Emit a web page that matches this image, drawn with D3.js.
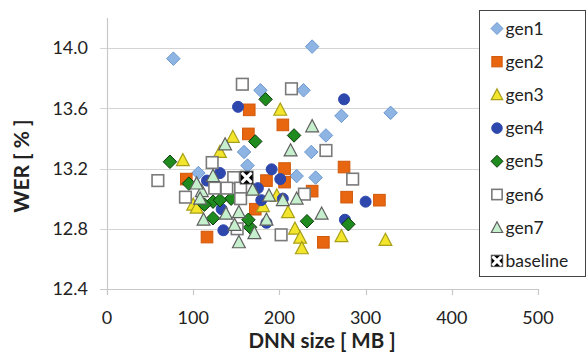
<!DOCTYPE html>
<html>
<head>
<meta charset="utf-8">
<script src="https://cdn.jsdelivr.net/npm/d3@7"></script>
<style>
  html, body { margin: 0; padding: 0; background: #fff; }
  svg { display: block; font-family: Lato, "Open Sans", sans-serif; }
</style>
</head>
<body>
<svg id="chart" width="587" height="355"></svg>
<script>
// DNN size [MB] vs WER [%] per generation
const gen1 = [[77,13.93],[238,14.01],[178,13.72],[228,13.72],[272,13.55],[329,13.57],[254,13.42],[237,13.31],[159,13.31],[163,13.22],[220,13.15],[242,13.14],[106,13.17]];
const gen2 = [[165,13.59],[164,13.43],[204,13.49],[206,13.20],[275,13.21],[206,13.11],[185,13.12],[92,13.13],[238,13.05],[278,13.01],[316,12.99],[172,12.93],[251,12.71],[116,12.745]];
const gen3 = [[201,13.59],[146,13.41],[131,13.31],[88,13.255],[100,12.96],[104,12.94],[197,13.02],[181,12.95],[210,12.91],[218,12.80],[224,12.74],[226,12.67],[272,12.75],[323,12.725]];
const gen4 = [[152,13.61],[275,13.66],[191,13.195],[201,13.13],[131,13.17],[116,13.12],[175,13.07],[204,13.00],[300,12.98],[276,12.86],[185,12.84],[135,12.79],[133,12.93],[179,12.99]];
const gen5 = [[172,13.38],[184,13.66],[217,13.42],[73,13.245],[95,13.10],[232,12.85],[280,12.83],[166,12.81],[164,12.86],[123,12.87],[123,12.98],[113,12.96],[144,13.00],[131,12.99]];
const gen6 = [[157,13.76],[214,13.73],[254,13.32],[122,13.24],[285,13.13],[147,13.14],[229,13.03],[155,13.07],[139,13.07],[125,13.07],[155,13.00],[91,13.01],[59,13.12],[202,12.76],[151,12.80]];
const gen7 = [[137,13.36],[238,13.48],[213,13.32],[220,13.00],[204,12.99],[188,13.02],[169,13.06],[249,12.90],[185,12.86],[153,12.71],[171,12.77],[148,12.825],[138,12.90],[153,12.91],[112,12.86],[110,13.05],[123,13.15],[104,13.10],[108,13.00]];
const baseline = [[162,13.14]];

const xTicks = [0, 100, 200, 300, 400, 500];
const yTicks = [12.4, 12.8, 13.2, 13.6, 14.0];

const seriesNames = ["gen1","gen2","gen3","gen4","gen5","gen6","gen7","baseline"];
const seriesData = [gen1, gen2, gen3, gen4, gen5, gen6, gen7, baseline];

const styles = {
  gen1: { shape: "diamond",  fill: "#8db4e2", stroke: "#6d98cf" },
  gen2: { shape: "square",   fill: "#e8660f", stroke: "#d0580a" },
  gen3: { shape: "triangle", fill: "#f2e52c", stroke: "#a8a018" },
  gen4: { shape: "circle",   fill: "#2d47ad", stroke: "#2d47ad" },
  gen5: { shape: "diamond",  fill: "#1f8b1f", stroke: "#0c3a0c" },
  gen6: { shape: "square",   fill: "#ffffff", stroke: "#7a7a7a" },
  gen7: { shape: "triangle", fill: "#c6efce", stroke: "#5f5f5f" },
  baseline: { shape: "cross", fill: "#000000", stroke: "#000000" }
};

const svg = d3.select("#chart");
const x = d3.scaleLinear().domain([0, 500]).range([107, 538]);
const y = d3.scaleLinear().domain([12.4, 14.2]).range([289, 18]);

// horizontal gridlines
svg.append("g").selectAll("line").data(yTicks).join("line")
  .attr("x1", 100).attr("x2", x(500))
  .attr("y1", d => Math.round(y(d)) + 0.5).attr("y2", d => Math.round(y(d)) + 0.5)
  .attr("stroke", d => d === 12.4 ? "#c8c8c8" : "#d4d4d4").attr("stroke-width", 1.2);

// vertical axis line
svg.append("line")
  .attr("x1", x(0) + 0.5).attr("x2", x(0) + 0.5)
  .attr("y1", 18).attr("y2", y(12.4) + 6)
  .attr("stroke", "#c8c8c8").attr("stroke-width", 1.2);

// x tick marks
svg.append("g").selectAll("line").data(xTicks).join("line")
  .attr("x1", d => Math.round(x(d)) + 0.5).attr("x2", d => Math.round(x(d)) + 0.5)
  .attr("y1", y(12.4)).attr("y2", y(12.4) + 6)
  .attr("stroke", "#c8c8c8").attr("stroke-width", 1.2);

// tick labels
svg.append("g").selectAll("text").data(yTicks).join("text")
  .attr("x", 88).attr("y", d => y(d)).attr("dy", "0.35em")
  .attr("text-anchor", "end").attr("font-size", 18).attr("fill", "#222")
  .text(d3.format(".1f"));

svg.append("g").selectAll("text").data(xTicks).join("text")
  .attr("x", d => x(d)).attr("y", 318).attr("dy", "0.35em")
  .attr("text-anchor", "middle").attr("font-size", 18).attr("fill", "#222")
  .text(d => d);

// axis titles
svg.append("text")
  .attr("x", 322).attr("y", 341).attr("dy", "0.35em")
  .attr("text-anchor", "middle").attr("font-size", 20.5).attr("font-weight", "bold").attr("fill", "#222")
  .text("DNN size [ MB ]");

svg.append("text")
  .attr("transform", "translate(22,166) rotate(-90)").attr("dy", "0.35em")
  .attr("text-anchor", "middle").attr("font-size", 21).attr("font-weight", "bold").attr("fill", "#222")
  .text("WER [ % ]");

// marker drawing
function drawMarker(g, shape, st, size) {
  const h = size / 2;
  if (shape === "diamond") {
    g.append("path").attr("d", `M0,${-h}L${h},0L0,${h}L${-h},0Z`)
      .attr("fill", st.fill).attr("stroke", st.stroke).attr("stroke-width", 1);
  } else if (shape === "square") {
    const s = size * 0.86, k = s / 2;
    g.append("rect").attr("x", -k).attr("y", -k).attr("width", s).attr("height", s)
      .attr("fill", st.fill).attr("stroke", st.stroke).attr("stroke-width", st.fill === "#ffffff" ? 1.6 : 1);
  } else if (shape === "triangle") {
    const w = size * 0.95;
    g.append("path").attr("d", `M0,${-h}L${w / 2},${h * 0.8}L${-w / 2},${h * 0.8}Z`)
      .attr("fill", st.fill).attr("stroke", st.stroke).attr("stroke-width", 1.2);
  } else if (shape === "circle") {
    g.append("circle").attr("r", size * 0.44).attr("fill", st.fill).attr("stroke", st.stroke);
  } else if (shape === "cross") {
    const s = size * 0.95, k = s / 2;
    g.append("rect").attr("x", -k).attr("y", -k).attr("width", s).attr("height", s)
      .attr("fill", "#000").attr("stroke", "#555").attr("stroke-width", 1);
    const c = k * 0.62;
    g.append("path").attr("d", `M${-c},${-c}L${c},${c}M${c},${-c}L${-c},${c}`)
      .attr("stroke", "#fff").attr("stroke-width", 3.2).attr("stroke-linecap", "round");
  }
}

// points, series drawn in order so later generations sit on top
seriesNames.forEach((name, i) => {
  const st = styles[name];
  const grp = svg.append("g").attr("class", name);
  seriesData[i].forEach(d => {
    const m = grp.append("g").attr("transform", `translate(${x(d[0])},${y(d[1])})`);
    drawMarker(m, st.shape, st, name === "gen4" ? 12.5 : 13.5);
  });
});

// legend
const lg = svg.append("g");
lg.append("rect").attr("x", 479.5).attr("y", 10.5).attr("width", 106).attr("height", 266)
  .attr("fill", "#fff").attr("stroke", "#444").attr("stroke-width", 1);
seriesNames.forEach((name, i) => {
  const cy = 28.5 + i * 33.2;
  const m = lg.append("g").attr("transform", `translate(497,${cy})`);
  drawMarker(m, styles[name].shape, styles[name], 12);
  lg.append("text").attr("x", 505.5).attr("y", cy).attr("dy", "0.35em")
    .attr("font-size", 17.5).attr("fill", "#222").text(name);
});
</script>
</body>
</html>
